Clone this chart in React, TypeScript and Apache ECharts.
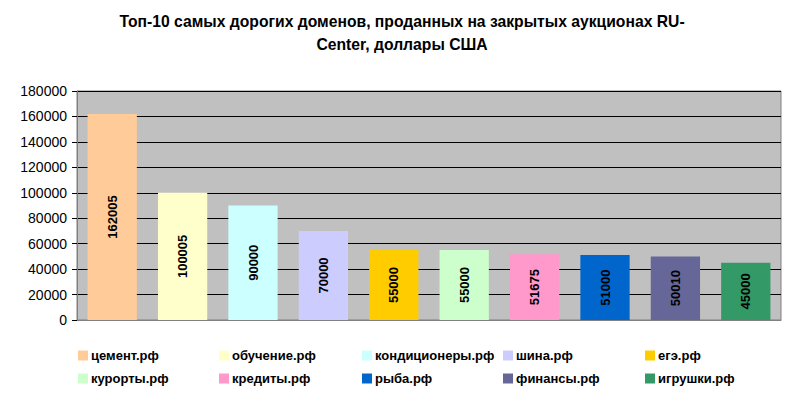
import React, { useEffect, useRef } from "react";
import * as echarts from "echarts";

const titleText = "Топ-10 самых дорогих доменов, проданных на закрытых аукционах RU-\nCenter, доллары США";
const domains = ["цемент.рф", "обучение.рф", "кондиционеры.рф", "шина.рф", "егэ.рф", "курорты.рф", "кредиты.рф", "рыба.рф", "финансы.рф", "игрушки.рф"];
const prices = [162005, 100005, 90000, 70000, 55000, 55000, 51675, 51000, 50010, 45000];
const colors = ["#FFCC99", "#FFFFCC", "#CCFFFF", "#CCCCFF", "#FFCC00", "#CCFFCC", "#FF99CC", "#0066CC", "#666699", "#339966"];
const legendX = [78, 219, 362, 503, 645];
const legendY = [349, 372];

const FONT = "Arial, 'Liberation Sans', sans-serif";

export default function App() {
  const ref = useRef<HTMLDivElement>(null);
  useEffect(() => {
    if (!ref.current) return;
    const chart = echarts.init(ref.current, null, { renderer: "svg" });
    const series = domains.map((name, i) => ({
      name,
      type: "bar",
      stack: "all",
      barWidth: "70%",
      itemStyle: { color: colors[i] },
      label: {
        show: true,
        position: "inside",
        rotate: 90,
        color: "#000",
        fontWeight: "bold",
        fontSize: 13,
        fontFamily: FONT,
      },
      data: domains.map((_, j) => (j === i ? prices[i] : "-")),
    }));
    const legends = domains.map((name, i) => ({
      data: [name],
      left: legendX[i % 5],
      top: legendY[Math.floor(i / 5)],
      orient: "horizontal",
      itemWidth: 10,
      itemHeight: 10,
      itemGap: 0,
      padding: 0,
      icon: "rect",
      textStyle: {
        fontSize: 13,
        fontWeight: "bold",
        color: "#000",
        fontFamily: FONT,
        padding: [0, 0, 0, -2],
      },
    }));
    chart.setOption({
      animation: false,
      backgroundColor: "#fff",
      title: {
        text: titleText,
        left: 397,
        top: 5,
        textAlign: "center",
        textStyle: {
          fontSize: 15.7,
          fontWeight: "bold",
          color: "#000",
          lineHeight: 23,
          fontFamily: FONT,
        },
      },
      legend: legends,
      grid: {
        left: 77,
        right: 17,
        top: 91,
        bottom: 79,
        show: true,
        backgroundColor: "#C0C0C0",
        borderColor: "#808080",
        borderWidth: 1,
      },
      xAxis: {
        type: "category",
        data: domains,
        axisLabel: { show: false },
        axisTick: { show: false },
        axisLine: { show: true, lineStyle: { color: "#808080" } },
      },
      yAxis: {
        type: "value",
        min: 0,
        max: 180000,
        interval: 20000,
        axisLine: { show: true, lineStyle: { color: "#808080" } },
        axisTick: { show: true, length: 5, lineStyle: { color: "#000" } },
        axisLabel: {
          color: "#000",
          fontSize: 14,
          margin: 10,
          fontFamily: FONT,
          formatter: (v: number) => String(v),
        },
        splitLine: { show: true, lineStyle: { color: "#000", width: 1 } },
      },
      series,
    });
    return () => chart.dispose();
  }, []);
  return <div ref={ref} style={{ width: 798, height: 399, position: "absolute", left: 0, top: 0 }} />;
}
